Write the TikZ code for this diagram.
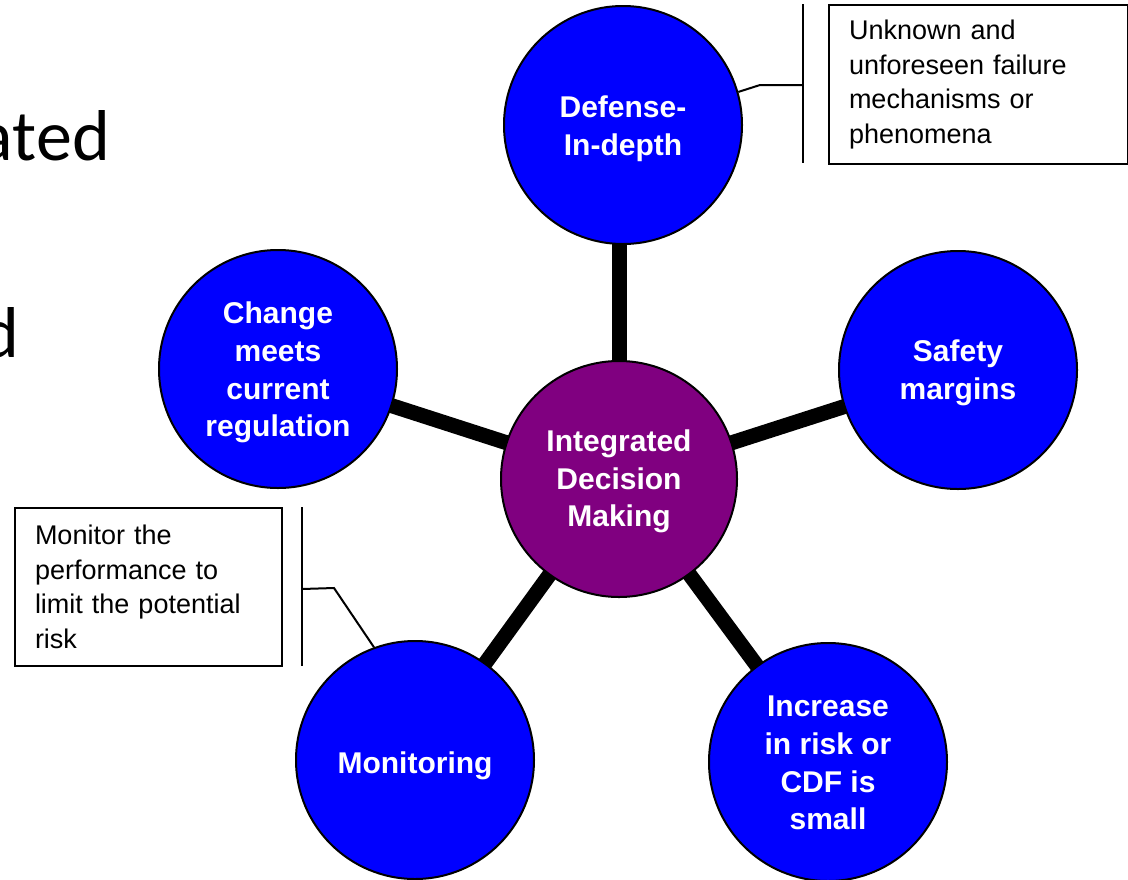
\documentclass[tikz,border=0pt]{standalone}
\usepackage{fontspec}
\setmainfont{Liberation Sans}
\newfontfamily\slidefont{Carlito}
\usetikzlibrary{backgrounds}
\definecolor{nodeblue}{HTML}{0000FF}
\definecolor{hubpurple}{HTML}{800080}
\tikzset{
  bubble/.style={circle, draw=black, line width=2pt, fill=nodeblue, minimum size=238pt, inner sep=0pt},
  hub/.style={bubble, fill=hubpurple, minimum size=236pt},
  bubtext/.style={inner sep=0pt, text=white, font=\fontsize{30}{37.7}\selectfont\bfseries, align=center},
  spoke/.style={line width=15pt, draw=black},
  callout/.style={draw=black, line width=2pt, inner xsep=20pt, inner ysep=0pt, align=left, font=\fontsize{27}{34.5}\selectfont, anchor=north west},
  leader/.style={line width=2pt, draw=black},
  bar/.style={line width=2.5pt, draw=black},
  slidetext/.style={font=\slidefont\fontsize{72}{80}\selectfont, inner sep=0pt, anchor=base east}
}
\begin{document}
\begin{tikzpicture}[x=1pt,y=-1pt]
\useasboundingbox (0,0) rectangle (1128,879);
\clip (0,0) rectangle (1128,879);

% clipped slide title fragments
\node[slidetext] (t1) at (110,160) {ated};
\node[slidetext] (t2) at (20,357) {d};

% circles
\node[hub] (ctr) at (619,479) {};
\node[bubble] (def) at (623,125) {};
\node[bubble] (chg) at (278,369) {};
\node[bubble] (saf) at (958,370) {};
\node[bubble] (mon) at (415,760) {};
\node[bubble] (inc) at (828,762) {};

\node[bubtext] (ctrT) at ([yshift=-2.5pt]ctr.center) {Integrated\\Decision\\Making};
\node[bubtext] (defT) at ([yshift=-3.5pt]def.center) {Defense-\\In-depth};
\node[bubtext] (chgT) at ([yshift=-3.5pt]chg.center) {Change\\meets\\current\\regulation};
\node[bubtext] (safT) at ([yshift=-2.5pt]saf.center) {Safety\\margins};
\node[bubtext] (monT) at ([yshift=-6pt]mon.center) {Monitoring};
\node[bubtext] (incT) at ([yshift=-1pt]inc.center) {Increase\\in risk or\\CDF is\\small};

\begin{scope}[on background layer]
  \fill[white] (0,0) rectangle (1128,879);
  \draw[spoke] (ctr.center) -- (ctr.center |- def.center);
  \draw[spoke] (ctr.center) -- (chg.center);
  \draw[spoke] (ctr.center) -- (saf.center);
  \draw[spoke] (ctr.center) -- (mon.center);
  \draw[spoke] (ctr.center) -- (inc.center);
\end{scope}

% top callout
\node[callout, text width=259pt, minimum height=159pt] (box1) at (828,4)
  {Unknown and\\unforeseen failure\\mechanisms or\\phenomena};
\coordinate (b1t) at (803,4);
\coordinate (b1b) at (803,163);
\draw[bar] (b1t) -- (b1b);
\coordinate (k1) at (760,85);
\coordinate (k2) at (803,85);
\draw[leader] (def.16) -- (k1) -- (k2);

% left callout
\node[callout, text width=227pt, minimum height=158pt] (box2) at (14,507)
  {Monitor the\\performance to\\limit the potential\\risk};
\coordinate (b2t) at (302,507);
\coordinate (b2b) at (302,666);
\draw[bar] (b2t) -- (b2b);
\coordinate (k3) at (302,589);
\coordinate (k4) at (334,588);
\draw[leader] (k3) -- (k4) -- (mon.110);
\end{tikzpicture}
\end{document}
